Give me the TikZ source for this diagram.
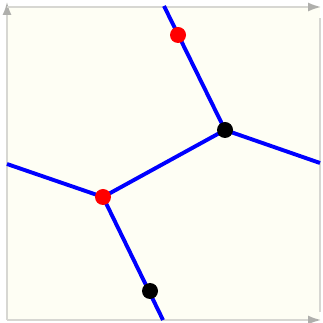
\documentclass[tikz,border=0pt]{standalone}
\usepackage{xcolor}
\usepackage{tikz}
\usetikzlibrary{arrows.meta}
\definecolor{paperivory}{RGB}{254, 254, 244}
\definecolor{framegray}{RGB}{215, 215, 210}
\definecolor{tipgray}{RGB}{175, 175, 172}

\begin{document}
\begin{tikzpicture}[x=1pt, y=1pt,
    frameline/.style={framegray, line width=1.5pt},
    axisarrow/.style={frameline, -{Latex[length=13pt, width=9pt, fill=tipgray, color=tipgray]}},
    edge/.style={blue, line width=3.9pt},
    site/.style={circle, inner sep=0pt, minimum size=16pt}]
    \useasboundingbox (0, 0) rectangle (322, 323);

    % Background box
    \fill[paperivory] (7, 3) rectangle (320, 316);

    % Frame
    \draw[axisarrow] (7, 3) -- (7, 321);
    \draw[axisarrow] (7, 3) -- (321, 3);
    \draw[axisarrow] (7, 316) -- (321, 316);
    \draw[frameline] (320, 11) -- (320, 305);

    % Vertices and ends
    \coordinate (top) at (164, 317);
    \coordinate (right) at (320, 160);
    \coordinate (left) at (7, 159);
    \coordinate (bottom) at (163, 3);
    \coordinate (upper) at (225, 193);
    \coordinate (lower) at (103, 126);

    % Edges
    \draw[edge] (top) -- (upper);
    \draw[edge] (upper) -- (right);
    \draw[edge] (upper) -- (lower);
    \draw[edge] (lower) -- (left);
    \draw[edge] (lower) -- (bottom);

    % Sites
    \node[site, fill=red] (redtop) at (178, 288) {};
    \node[site, fill=red] (redmid) at (lower) {};
    \node[site, fill=black] (blackmid) at (upper) {};
    \node[site, fill=black] (blackbot) at (150, 32) {};
\end{tikzpicture}
\end{document}
